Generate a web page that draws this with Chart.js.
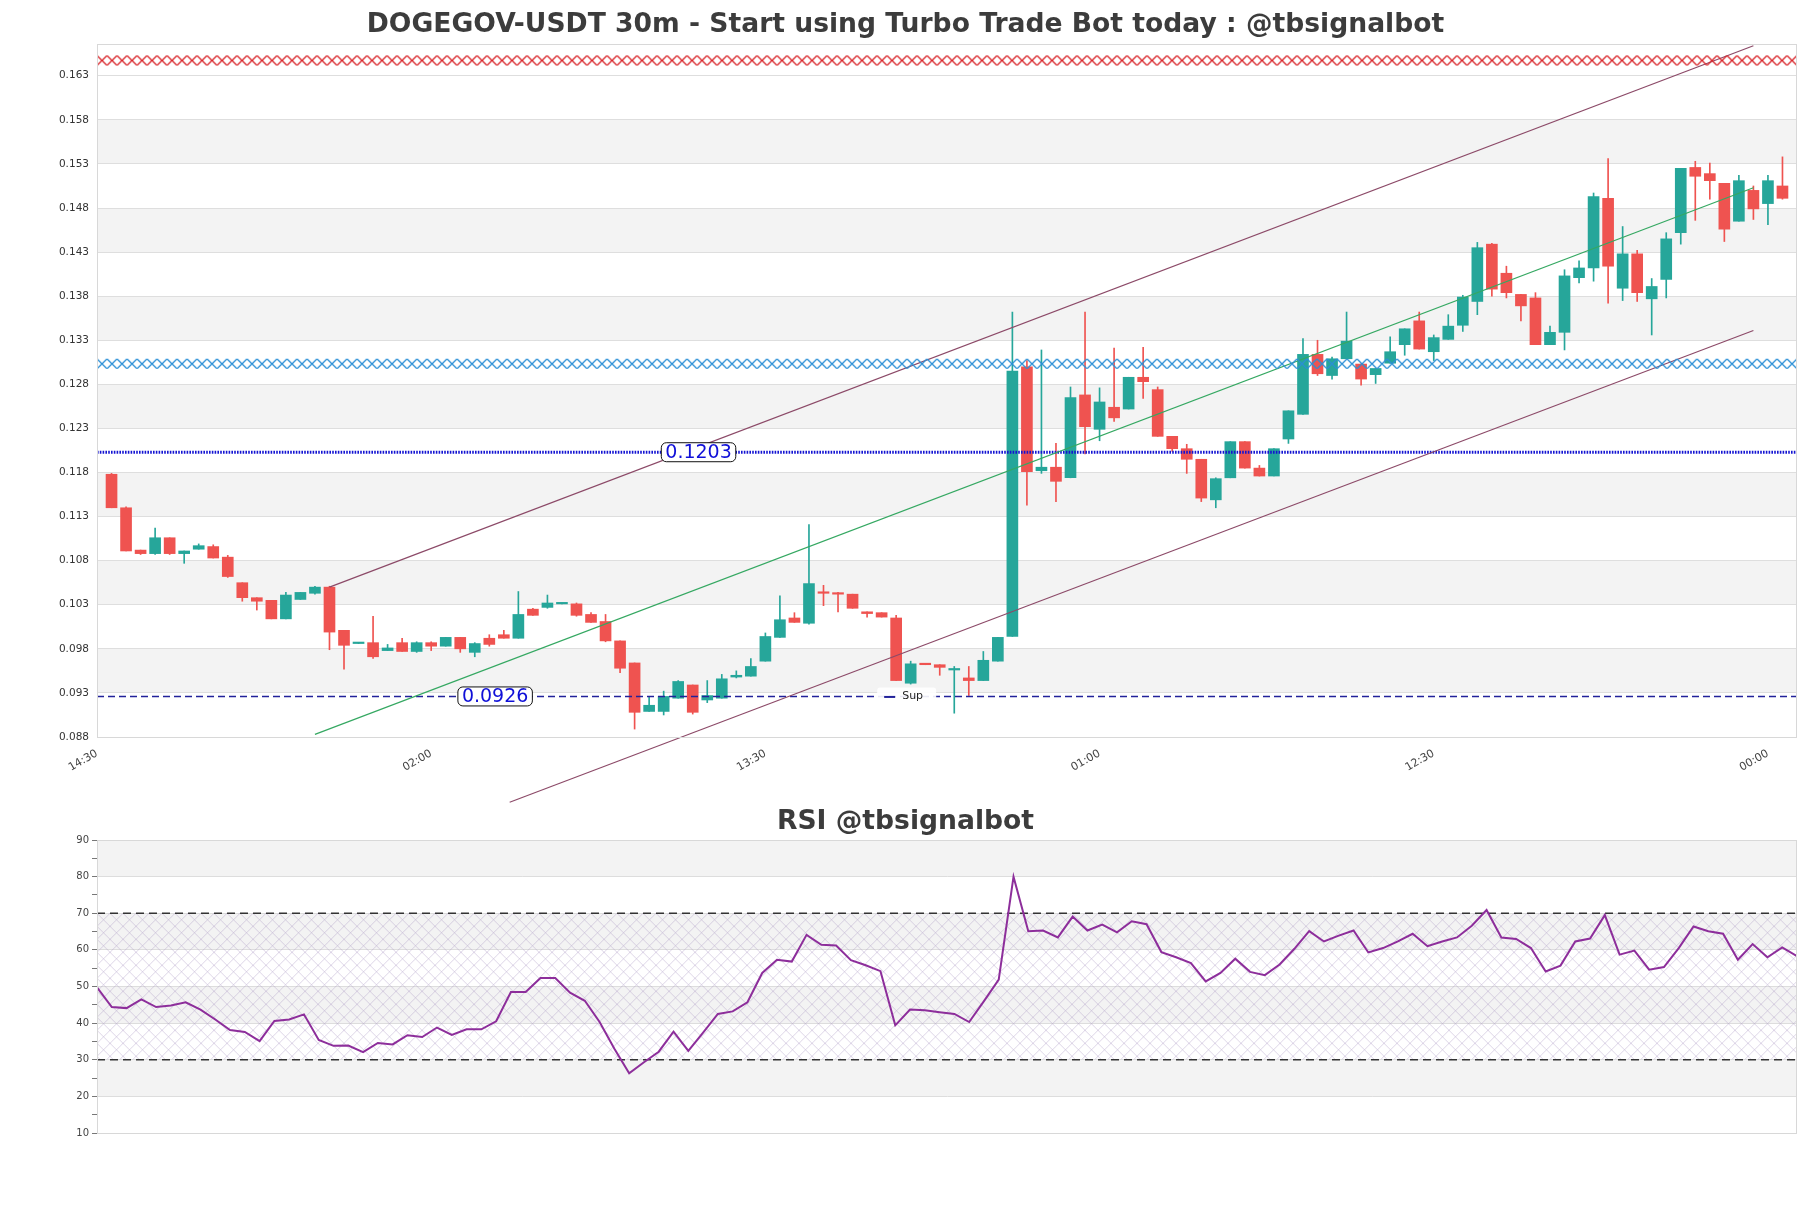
<!DOCTYPE html>
<html lang="en">
<head>
  <meta charset="UTF-8" />
  <title>DOGEGOV-USDT 30m</title>
  <script src="https://cdn.jsdelivr.net/npm/chart.js"></script>
  <style>
    body { margin: 0; background: #fff; }
    #wrap { position: relative; width: 1811px; height: 1208px; background: #fff; }
    #price { position: absolute; left: 0; top: 0; }
    #rsi { position: absolute; left: 0; top: 800px; }
  </style>
</head>
<body>
  <div id="wrap">
    <canvas id="price" width="1811" height="830"></canvas>
    <canvas id="rsi" width="1811" height="408"></canvas>
  </div>

  <script>
    // 30m candles, index 1..116 on the price axis
    const candleOpen = [
      0.1178, 0.1140, 0.1092, 0.1088, 0.1106, 0.1088, 0.1093, 0.1096, 0.1084, 0.1055,
      0.1038, 0.1035, 0.1014, 0.1036, 0.1043, 0.1050, 0.1001, 0.0986, 0.0987, 0.0978,
      0.0987, 0.0977, 0.0987, 0.0983, 0.0993, 0.0976, 0.0992, 0.0996, 0.0992, 0.1025,
      0.1027, 0.1031, 0.1031, 0.1019, 0.1011, 0.0989, 0.0964, 0.0909, 0.0909, 0.0924,
      0.0939, 0.0922, 0.0924, 0.0948, 0.0949, 0.0966, 0.0993, 0.1015, 0.1009, 0.1044,
      0.1043, 0.1042, 0.1022, 0.1021, 0.1015, 0.0941, 0.0963, 0.0962, 0.0956, 0.0947,
      0.0944, 0.0966, 0.0994, 0.1300, 0.1182, 0.1186, 0.1174, 0.1268, 0.1229, 0.1254,
      0.1252, 0.1288, 0.1274, 0.1221, 0.1207, 0.1195, 0.1149, 0.1174, 0.1215, 0.1185,
      0.1176, 0.1218, 0.1246, 0.1314, 0.1290, 0.1309, 0.1303, 0.1291, 0.1304, 0.1325,
      0.1352, 0.1317, 0.1331, 0.1347, 0.1374, 0.1439, 0.1406, 0.1382, 0.1378, 0.1325,
      0.1339, 0.1401, 0.1412, 0.1491, 0.1389, 0.1428, 0.1377, 0.1399, 0.1452, 0.1526,
      0.1519, 0.1508, 0.1465, 0.1500, 0.1485, 0.1505
    ];
    const candleHigh = [
      0.1179, 0.1141, 0.1092, 0.1117, 0.1106, 0.1091, 0.1099, 0.1098, 0.1086, 0.1055,
      0.1038, 0.1035, 0.1044, 0.1044, 0.1051, 0.1051, 0.1001, 0.0987, 0.1017, 0.0985,
      0.0992, 0.0988, 0.0988, 0.0993, 0.0993, 0.0987, 0.0996, 0.1001, 0.1045, 0.1026,
      0.1041, 0.1032, 0.1032, 0.1021, 0.1019, 0.0989, 0.0964, 0.0925, 0.0932, 0.0944,
      0.0939, 0.0944, 0.0951, 0.0955, 0.0969, 0.0998, 0.1040, 0.1021, 0.1121, 0.1052,
      0.1044, 0.1042, 0.1022, 0.1021, 0.1018, 0.0966, 0.0963, 0.0962, 0.0960, 0.0960,
      0.0977, 0.0993, 0.1362, 0.1307, 0.1319, 0.1213, 0.1277, 0.1362, 0.1276, 0.1321,
      0.1288, 0.1322, 0.1277, 0.1221, 0.1212, 0.1195, 0.1174, 0.1215, 0.1215, 0.1188,
      0.1207, 0.1250, 0.1332, 0.1330, 0.1311, 0.1362, 0.1303, 0.1298, 0.1334, 0.1343,
      0.1362, 0.1336, 0.1359, 0.1381, 0.1441, 0.1440, 0.1414, 0.1382, 0.1384, 0.1346,
      0.1410, 0.1420, 0.1497, 0.1536, 0.1459, 0.1432, 0.1400, 0.1452, 0.1525, 0.1533,
      0.1531, 0.1508, 0.1517, 0.1505, 0.1517, 0.1538
    ];
    const candleLow = [
      0.1140, 0.1091, 0.1087, 0.1087, 0.1087, 0.1077, 0.1093, 0.1083, 0.1061, 0.1034,
      0.1024, 0.1014, 0.1014, 0.1036, 0.1042, 0.0979, 0.0957, 0.0986, 0.0969, 0.0978,
      0.0977, 0.0976, 0.0978, 0.0983, 0.0976, 0.0971, 0.0983, 0.0992, 0.0992, 0.1018,
      0.1026, 0.1031, 0.1017, 0.1010, 0.0988, 0.0953, 0.0889, 0.0909, 0.0905, 0.0924,
      0.0906, 0.0919, 0.0924, 0.0947, 0.0949, 0.0966, 0.0993, 0.1010, 0.1008, 0.1029,
      0.1022, 0.1026, 0.1016, 0.1016, 0.0944, 0.0940, 0.0962, 0.0950, 0.0907, 0.0927,
      0.0944, 0.0966, 0.0994, 0.1143, 0.1179, 0.1147, 0.1174, 0.1201, 0.1216, 0.1238,
      0.1252, 0.1264, 0.1221, 0.1204, 0.1179, 0.1147, 0.1140, 0.1174, 0.1185, 0.1176,
      0.1176, 0.1213, 0.1246, 0.1290, 0.1286, 0.1309, 0.1279, 0.1281, 0.1304, 0.1313,
      0.1320, 0.1307, 0.1331, 0.1340, 0.1359, 0.1380, 0.1378, 0.1352, 0.1325, 0.1325,
      0.1319, 0.1395, 0.1397, 0.1372, 0.1375, 0.1374, 0.1336, 0.1378, 0.1439, 0.1466,
      0.1490, 0.1442, 0.1465, 0.1467, 0.1461, 0.1490
    ];
    const candleClose = [
      0.1140, 0.1091, 0.1088, 0.1106, 0.1088, 0.1091, 0.1097, 0.1083, 0.1062, 0.1038,
      0.1034, 0.1014, 0.1041, 0.1044, 0.1050, 0.0999, 0.0984, 0.0987, 0.0971, 0.0981,
      0.0977, 0.0987, 0.0983, 0.0993, 0.0980, 0.0986, 0.0985, 0.0992, 0.1019, 0.1018,
      0.1032, 0.1032, 0.1018, 0.1010, 0.0989, 0.0958, 0.0908, 0.0916, 0.0926, 0.0943,
      0.0908, 0.0927, 0.0946, 0.0950, 0.0960, 0.0994, 0.1013, 0.1010, 0.1054, 0.1043,
      0.1042, 0.1026, 0.1020, 0.1016, 0.0944, 0.0963, 0.0962, 0.0959, 0.0957, 0.0944,
      0.0967, 0.0993, 0.1295, 0.1181, 0.1186, 0.1170, 0.1265, 0.1232, 0.1260, 0.1242,
      0.1288, 0.1283, 0.1221, 0.1207, 0.1195, 0.1151, 0.1173, 0.1215, 0.1185, 0.1176,
      0.1207, 0.1250, 0.1314, 0.1292, 0.1309, 0.1329, 0.1286, 0.1298, 0.1317, 0.1343,
      0.1320, 0.1333, 0.1346, 0.1379, 0.1435, 0.1388, 0.1384, 0.1369, 0.1325, 0.1339,
      0.1403, 0.1412, 0.1493, 0.1414, 0.1428, 0.1384, 0.1391, 0.1445, 0.1525, 0.1516,
      0.1511, 0.1456, 0.1511, 0.1479, 0.1511, 0.1491
    ];

    const rsiValues = [
      49.8, 44.4, 44.1, 46.5, 44.4, 44.8, 45.7, 43.7, 41.0, 38.1,
      37.6, 35.1, 40.6, 41.0, 42.4, 35.4, 33.8, 33.9, 32.1, 34.6,
      34.2, 36.7, 36.2, 38.8, 36.8, 38.3, 38.3, 40.5, 48.5, 48.5,
      52.3, 52.3, 48.3, 46.1, 40.3, 33.0, 26.3, 29.3, 32.2, 37.7,
      32.4, 37.4, 42.5, 43.2, 45.7, 53.7, 57.3, 56.8, 64.1, 61.4,
      61.2, 57.2, 55.8, 54.2, 39.4, 43.7, 43.5, 43.0, 42.5, 40.3,
      46.0, 51.9, 80.0, 65.1, 65.3, 63.4, 69.1, 65.3, 66.9, 64.8,
      67.8, 67.0, 59.4, 58.0, 56.4, 51.4, 53.7, 57.6, 54.0, 53.1,
      56.0, 60.3, 65.1, 62.3, 63.9, 65.3, 59.3, 60.5, 62.3, 64.4,
      61.0, 62.3, 63.4, 66.6, 70.9, 63.4, 63.0, 60.5, 54.1, 55.7,
      62.3, 63.1, 69.5, 58.7, 59.8, 54.6, 55.3, 60.5, 66.4, 65.1,
      64.4, 57.3, 61.6, 58.0, 60.7, 58.3
    ];

    const xTickPos = [0, 23, 46, 69, 92, 115];
    const xTickLabels = ['14:30', '02:00', '13:30', '01:00', '12:30', '00:00'];
    const yTicks = [0.088, 0.093, 0.098, 0.103, 0.108, 0.113, 0.118, 0.123, 0.128, 0.133, 0.138, 0.143, 0.148, 0.153, 0.158, 0.163];
    const rsiTicks = [10, 20, 30, 40, 50, 60, 70, 80, 90];

    // channel lines: [x, price]
    const channelUpper = [[16, 0.1050], [114, 0.1664]];
    const channelMid = [[15, 0.0883], [114, 0.1503]];
    const channelLower = [[28.4, 0.0806], [114, 0.1341]];

    const resistanceLevel = 0.1203;
    const supportLevel = 0.0926;
    const redZone = [0.1642, 0.1653];
    const blueZone = [0.1298, 0.1309];
    const rsiHigh = 70;
    const rsiLow = 30;

    const GREEN = '#26a69a';
    const RED = '#ef5350';
    const FONT = "'DejaVu Sans', sans-serif";

    const idx = candleOpen.map((_, i) => i + 1);
    const candleColors = idx.map((_, i) => candleClose[i] >= candleOpen[i] ? GREEN : RED);

    function hatchTile(color, w, h, lw) {
      const c = document.createElement('canvas');
      c.width = w; c.height = h;
      const g = c.getContext('2d');
      g.strokeStyle = color;
      g.lineWidth = lw;
      g.beginPath();
      g.moveTo(0, 0); g.lineTo(w, h);
      g.moveTo(0, h); g.lineTo(w, 0);
      g.stroke();
      return c;
    }

    function fillHatch(chart, lo, hi, color, tw, th, lw) {
      const { ctx, chartArea: a, scales: { y } } = chart;
      const top = y.getPixelForValue(hi), bot = y.getPixelForValue(lo);
      const h = Math.max(2, Math.round(bot - top));
      const pat = ctx.createPattern(hatchTile(color, tw, th || h, lw), 'repeat');
      pat.setTransform(new DOMMatrix().translate(a.left, top));
      ctx.save();
      ctx.fillStyle = pat;
      ctx.fillRect(a.left, top, a.right - a.left, h);
      ctx.restore();
    }

    function tagBox(ctx, text, cx, cy) {
      ctx.save();
      ctx.font = '19px ' + FONT;
      const w = ctx.measureText(text).width + 8, h = 19;
      ctx.beginPath();
      ctx.roundRect(cx - w / 2, cy - h / 2, w, h, 5);
      ctx.fillStyle = '#fff';
      ctx.fill();
      ctx.strokeStyle = '#111';
      ctx.lineWidth = 1;
      ctx.stroke();
      ctx.fillStyle = '#1010d8';
      ctx.textAlign = 'center';
      ctx.textBaseline = 'middle';
      ctx.fillText(text, cx, cy + 1);
      ctx.restore();
    }

    function bandFill(chart, bands, color) {
      const { ctx, chartArea: a, scales: { y } } = chart;
      ctx.save();
      ctx.fillStyle = color;
      bands.forEach(([lo, hi]) => {
        const t = y.getPixelForValue(hi), b = y.getPixelForValue(lo);
        ctx.fillRect(a.left, t, a.right - a.left, b - t);
      });
      ctx.restore();
    }

    function frame(chart) {
      const { ctx, chartArea: a } = chart;
      ctx.save();
      ctx.strokeStyle = '#d8d8d8';
      ctx.lineWidth = 1;
      ctx.strokeRect(a.left + 0.5, a.top + 0.5, a.right - a.left - 1, a.bottom - a.top);
      ctx.restore();
    }

    // empty right-hand axis, only to keep the right margin inside the title box
    const rightGap = {
      position: 'right', min: 0, max: 1,
      afterFit: (s) => { s.width = 14; },
      ticks: { display: false },
      grid: { display: false, drawTicks: false },
      border: { display: false }
    };

    const priceDecor = {
      id: 'priceDecor',
      beforeDraw(chart) {
        const bands = [];
        for (let i = 1; i + 1 < yTicks.length; i += 2) bands.push([yTicks[i], yTicks[i + 1]]);
        bandFill(chart, bands, '#f3f3f3');
      },
      afterDatasetsDraw(chart) {
        const { ctx, scales: { x, y } } = chart;
        fillHatch(chart, redZone[0], redZone[1], '#d9262b', 10, 0, 1.3);
        fillHatch(chart, blueZone[0], blueZone[1], '#2a8fd6', 10, 0, 1.3);
        tagBox(ctx, resistanceLevel.toFixed(4), x.getPixelForValue(41.4), y.getPixelForValue(resistanceLevel));
        tagBox(ctx, supportLevel.toFixed(4), x.getPixelForValue(27.4), y.getPixelForValue(supportLevel));
        // legend for the support line
        const lx = x.getPixelForValue(53.9), ly = y.getPixelForValue(supportLevel);
        ctx.save();
        ctx.fillStyle = 'rgba(255,255,255,0.9)';
        ctx.beginPath();
        ctx.roundRect(lx - 3, ly - 9, 59, 18, 3);
        ctx.fill();
        ctx.strokeStyle = '#22229a';
        ctx.lineWidth = 2;
        ctx.beginPath();
        ctx.moveTo(lx + 4, ly + 0.5);
        ctx.lineTo(lx + 15, ly + 0.5);
        ctx.stroke();
        ctx.fillStyle = '#222';
        ctx.font = '11px ' + FONT;
        ctx.textBaseline = 'middle';
        ctx.fillText('Sup', lx + 22, ly);
        ctx.restore();
      },
      afterDraw(chart) { frame(chart); }
    };

    const pts = (arr) => arr.map(([px, py]) => ({ x: px, y: py }));
    const flat = (v, a, b) => [{ x: a, y: v }, { x: b, y: v }];

    new Chart(document.getElementById('price'), {
      data: {
        datasets: [
          {
            type: 'line', data: pts(channelUpper), borderColor: '#8c4a68', borderWidth: 1.2,
            pointRadius: 0, order: 0
          },
          {
            type: 'line', data: pts(channelMid), borderColor: '#35a862', borderWidth: 1.2,
            pointRadius: 0, order: 0
          },
          {
            type: 'line', data: pts(channelLower), borderColor: '#8c4a68', borderWidth: 1.2,
            pointRadius: 0, order: 0, clip: false
          },
          {
            type: 'line', data: flat(resistanceLevel, 0, 117), borderColor: '#1414d2', borderWidth: 2.8,
            borderDash: [1.6, 1.2], pointRadius: 0, order: 0
          },
          {
            type: 'line', data: flat(supportLevel, 0, 117), borderColor: '#22229a', borderWidth: 1.5,
            borderDash: [7, 4], pointRadius: 0, order: 0
          },
          {
            type: 'bar', data: idx.map((v, i) => ({ x: v, y: [candleOpen[i], candleClose[i]] })),
            backgroundColor: candleColors, barThickness: 11, maxBarThickness: 11, minBarLength: 1.5,
            grouped: false, borderWidth: 0, order: 1
          },
          {
            type: 'bar', data: idx.map((v, i) => ({ x: v, y: [candleLow[i], candleHigh[i]] })),
            backgroundColor: candleColors, barThickness: 1, maxBarThickness: 1,
            grouped: false, borderWidth: 0, order: 2
          }
        ]
      },
      options: {
        responsive: false,
        animation: false,
        layout: { padding: 0 },
        plugins: {
          legend: { display: false },
          tooltip: { enabled: false },
          title: {
            display: true,
            text: 'DOGEGOV-USDT 30m - Start using Turbo Trade Bot today : @tbsignalbot',
            color: '#3c3c3c',
            font: { family: FONT, size: 26.6, weight: 'bold', lineHeight: 1.2 },
            padding: { top: 9.5, bottom: 2.6 }
          }
        },
        scales: {
          x: {
            type: 'linear', min: 0, max: 117, offset: false,
            afterBuildTicks: (s) => { s.ticks = xTickPos.map(v => ({ value: v })); },
            afterFit: (s) => { s.height = 93; },
            ticks: {
              autoSkip: false, minRotation: 30, maxRotation: 30, padding: 2,
              color: '#444', font: { family: FONT, size: 11 },
              callback: (v) => xTickLabels[xTickPos.indexOf(v)]
            },
            grid: { display: false },
            border: { display: false }
          },
          y: {
            min: 0.088, max: 0.1666,
            afterBuildTicks: (s) => { s.ticks = yTicks.map(v => ({ value: v })); },
            afterFit: (s) => { s.width = 97; },
            ticks: {
              padding: 8, color: '#333', font: { family: FONT, size: 10.5 },
              callback: (v) => Number(v).toFixed(3)
            },
            grid: { color: '#dedede', drawTicks: false },
            border: { display: false }
          },
          gap: rightGap
        }
      },
      plugins: [priceDecor]
    });

    const rsiDecor = {
      id: 'rsiDecor',
      beforeDraw(chart) {
        bandFill(chart, [[20, 30], [40, 50], [60, 70], [80, 90]], '#f3f3f3');
      },
      beforeDatasetsDraw(chart) {
        fillHatch(chart, rsiLow, rsiHigh, 'rgba(170,150,195,0.5)', 13, 13, 0.8);
      },
      afterDraw(chart) { frame(chart); }
    };

    new Chart(document.getElementById('rsi'), {
      data: {
        datasets: [
          {
            type: 'line', data: flat(rsiHigh, 0, 115), borderColor: '#333', borderWidth: 1.3,
            borderDash: [8, 5], pointRadius: 0, order: 1
          },
          {
            type: 'line', data: flat(rsiLow, 0, 115), borderColor: '#333', borderWidth: 1.3,
            borderDash: [8, 5], pointRadius: 0, order: 1
          },
          {
            type: 'line', data: rsiValues.map((v, i) => ({ x: i, y: v })),
            borderColor: '#8d2e9b', borderWidth: 2, pointRadius: 0, tension: 0, order: 0
          }
        ]
      },
      options: {
        responsive: false,
        animation: false,
        layout: { padding: { left: 0, right: 0, top: 0, bottom: 75 } },
        plugins: {
          legend: { display: false },
          tooltip: { enabled: false },
          title: {
            display: true,
            text: 'RSI @tbsignalbot',
            color: '#3c3c3c',
            font: { family: FONT, size: 26.6, weight: 'bold', lineHeight: 1.2 },
            padding: { top: 6, bottom: 2.1 }
          }
        },
        scales: {
          x: { type: 'linear', min: 0, max: 115, display: false },
          y: {
            min: 10, max: 90,
            afterBuildTicks: (s) => {
              const t = [];
              for (let v = 10; v <= 90; v += 5) t.push({ value: v });
              s.ticks = t;
            },
            afterFit: (s) => { s.width = 97; },
            ticks: {
              padding: 3, color: '#444', font: { family: FONT, size: 10 },
              callback: (v) => rsiTicks.includes(v) ? String(v) : ''
            },
            grid: {
              color: (c) => rsiTicks.includes(c.tick && c.tick.value) ? '#dddddd' : 'rgba(0,0,0,0)',
              tickColor: '#777', tickLength: 5
            },
            border: { display: true, color: '#cccccc' }
          },
          gap: rightGap
        }
      },
      plugins: [rsiDecor]
    });
  </script>
</body>
</html>
